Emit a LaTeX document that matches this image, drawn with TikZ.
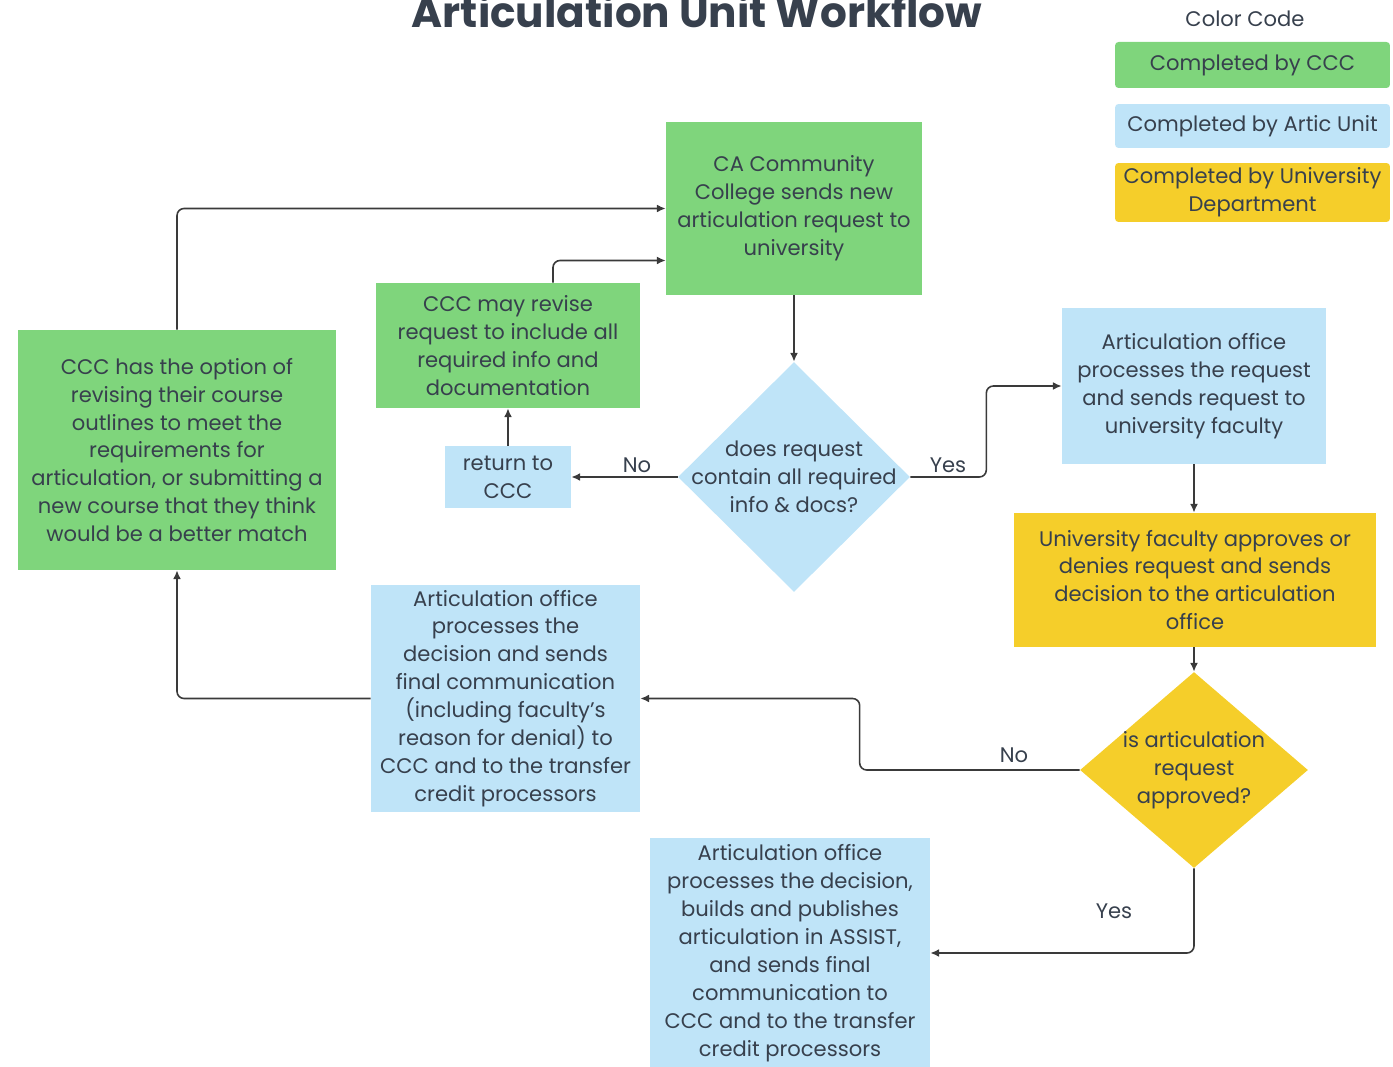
\documentclass[tikz,border=0pt]{standalone}
\usepackage{fontspec}
\setmainfont{Poppins}
\usetikzlibrary{shapes.geometric,arrows.meta}
\definecolor{cgreen}{HTML}{7FD57C}
\definecolor{cblue}{HTML}{BFE4F8}
\definecolor{cyellow}{HTML}{F5CE2A}
\definecolor{ctext}{HTML}{37404D}
\definecolor{cline}{HTML}{3A3A3A}
\begin{document}
\begin{tikzpicture}[x=0.02cm,y=-0.02cm,
  every node/.style={text=ctext, font=\fontsize{12}{15.9}\selectfont},
  box/.style={rectangle, inner sep=0pt, align=center},
  leg/.style={box, rounded corners=2pt, minimum width=5.5cm},
  dia/.style={diamond, inner sep=0pt},
  dtext/.style={align=center, inner sep=0pt},
  lab/.style={inner sep=1pt},
  conn/.style={draw=cline, line width=0.9pt, rounded corners=4pt, -{Latex[length=5pt,width=4.5pt]}}
]
\useasboundingbox (0,0) rectangle (1393,1067);
% title and legend
\node[anchor=base, font=\fontsize{24}{28}\bfseries, text=ctext] (title) at (697,28) {Articulation Unit Workflow};
\node[font=\fontsize{12}{15}\selectfont] (cc) at (1245,19) {Color Code};
\node[leg, fill=cgreen, minimum height=0.92cm] (L1) at (1252.5,65) {Completed by CCC};
\node[leg, fill=cblue, minimum height=0.88cm] (L2) at (1252.5,126) {Completed by Artic Unit};
\node[leg, fill=cyellow, minimum height=1.18cm] (L3) at (1252.5,192.5) {Completed by University\\Department};
% boxes
\node[box, fill=cgreen, minimum width=5.12cm, minimum height=3.46cm] (A) at (794,208.5) {CA Community\\College sends new\\articulation request to\\university};
\node[box, fill=cgreen, minimum width=5.28cm, minimum height=2.5cm] (B) at (508,345.5) {CCC may revise\\request to include all\\required info and\\documentation};
\node[box, fill=cgreen, minimum width=6.36cm, minimum height=4.8cm] (C) at (177,450) {CCC has the option of\\revising their course\\outlines to meet the\\requirements for\\articulation, or submitting a\\new course that they think\\would be a better match};
\node[box, fill=cblue, minimum width=2.52cm, minimum height=1.24cm] (E) at (508,477) {return to\\CCC};
\node[box, fill=cblue, minimum width=5.28cm, minimum height=3.12cm] (F) at (1194,386) {Articulation office\\processes the request\\and sends request to\\university faculty};
\node[box, fill=cyellow, minimum width=7.24cm, minimum height=2.68cm] (G) at (1195,580) {University faculty approves or\\denies request and sends\\decision to the articulation\\office};
\node[box, fill=cblue, minimum width=5.38cm, minimum height=4.54cm] (I) at (505.5,698.5) {Articulation office\\processes the\\decision and sends\\final communication\\(including faculty's\\reason for denial) to\\CCC and to the transfer\\credit processors};
\node[box, fill=cblue, minimum width=5.6cm, minimum height=4.6cm] (J) at (790,953) {Articulation office\\processes the decision,\\builds and publishes\\articulation in ASSIST,\\and sends final\\communication to\\CCC and to the transfer\\credit processors};
% diamonds
\node[dia, fill=cblue, minimum width=4.64cm, minimum height=4.6cm] (D) at (794,477) {};
\node[dtext] (Dt) at (D.center) {does request\\contain all required\\info \& docs?};
\node[dia, fill=cyellow, minimum width=4.56cm, minimum height=3.92cm] (H) at (1194,770) {};
\node[dtext] (Ht) at (H.center) {is articulation\\request\\approved?};
% connectors
\draw[conn] (A.south) -- (D.north);
\draw[conn] (D.west) -- (E.east);
\draw[conn] (E.north) -- (B.north |- B.south);
\draw[conn] ([xshift=0.9cm]B.north) |- ([yshift=-1.04cm]A.west);
\draw[conn] (C.north) |- (A.west);
\draw[conn] (D.east) -- ++(76,0) |- (F.west);
\draw[conn] (F.south) -- (G.north -| F.south);
\draw[conn] (G.south -| H.north) -- (H.north);
\draw[conn] (H.west) -- ++(-220,0) |- (I.east);
\draw[conn] (I.west) -| (C.south);
\draw[conn] (H.south) |- (J.east);
% labels
\node[lab] (n1) at (637,465) {No};
\node[lab] (y1) at (948,465) {Yes};
\node[lab] (n2) at (1014,755) {No};
\node[lab] (y2) at (1114,911) {Yes};
\end{tikzpicture}
\end{document}
